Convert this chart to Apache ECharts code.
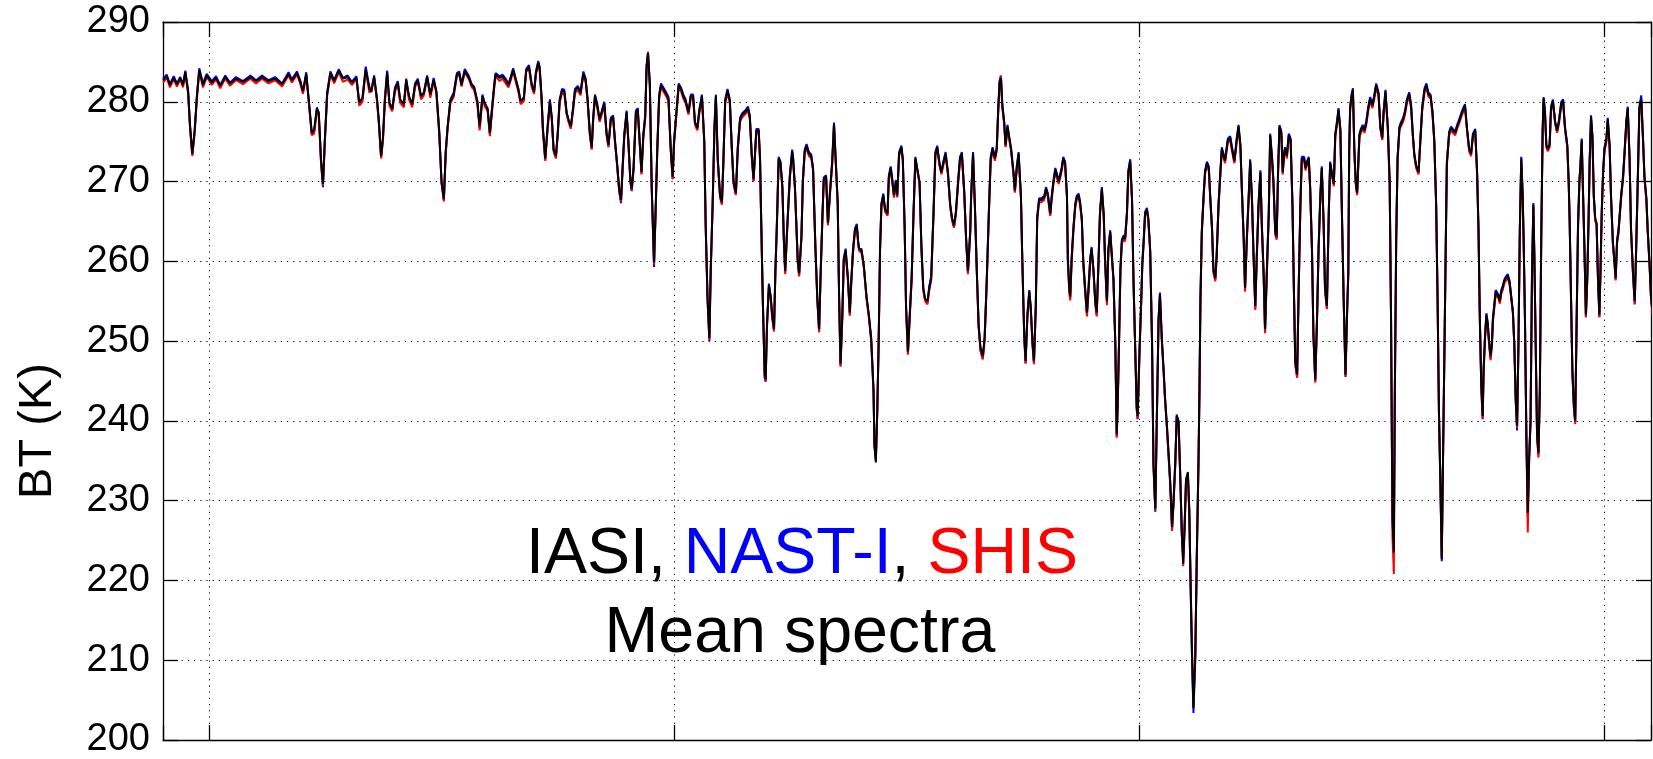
<!DOCTYPE html>
<html><head><meta charset="utf-8">
<script src="https://cdn.jsdelivr.net/npm/echarts@6/dist/echarts.min.js"></script>
<style>html,body{margin:0;padding:0;background:#fff}#c{width:1653px;height:759px}</style>
</head><body><div id="c"></div>
<script>
// Wavenumber (cm-1) sample positions
const wavenumber = [
1090.0,1090.8,1091.5,1092.3,1093.0,1093.7,1094.3,1094.8,1095.4,1095.8,
1096.3,1096.8,1097.3,1097.8,1098.6,1099.4,1100.5,1101.4,1102.3,1103.4,
1104.4,1105.7,1107.2,1108.8,1110.0,1111.3,1112.7,1114.1,1115.6,1117.0,
1117.7,1118.8,1119.5,1120.1,1120.8,1121.4,1122.0,1122.5,1123.1,1123.5,
1124.0,1124.4,1124.8,1125.3,1126.0,1126.8,1127.8,1128.7,1129.7,1130.6,
1131.6,1132.2,1132.9,1133.6,1134.4,1134.8,1135.4,1136.0,1136.4,1136.9,
1137.3,1137.7,1138.2,1138.7,1139.3,1139.9,1140.5,1141.0,1141.8,1142.3,
1142.9,1143.6,1144.2,1144.8,1145.5,1146.1,1146.8,1147.5,1148.2,1148.8,
1149.4,1149.9,1150.4,1150.8,1151.2,1151.8,1152.5,1153.2,
1153.7,1154.2,1154.9,1155.8,1156.4,1156.9,1157.6,1158.1,1158.7,1159.2,
1159.8,1160.3,1160.7,1161.2,1161.5,1162.4,1163.0,1163.7,1164.3,1164.8,
1165.3,1165.9,1166.4,1166.9,1167.6,1168.1,1168.7,1169.3,1169.8,1170.2,
1170.7,1171.0,1171.4,1171.7,1172.2,1172.7,1173.2,1173.6,1174.0,1174.5,
1174.9,1175.3,1175.8,1176.3,1176.8,1177.2,1177.7,1178.2,1178.6,1179.2,
1179.8,1180.4,1180.9,1181.3,1181.8,1182.2,1182.5,1182.9,1183.4,1183.9,
1184.5,1184.9,1185.4,1185.8,1186.3,1186.8,1187.2,1187.7,1188.1,1188.5,
1188.8,1189.2,1189.7,1190.1,1190.5,1190.8,1191.2,1191.7,1192.1,1192.5,
1192.9,1193.3,1193.7,1194.0,1194.3,1194.7,1195.1,1195.6,1196.0,1196.3,
1196.7,1197.1,1197.6,1198.1,1198.7,1199.2,1199.6,1199.9,1200.3,1200.9,
1201.4,1201.9,1202.4,1203.0,1203.5,1204.0,1204.4,1204.9,1205.3,1205.9,
1206.4,1206.7,1207.1,1207.5,1207.8,1208.2,1208.6,1208.9,1209.3,1209.8,
1210.2,1210.5,1210.9,1211.4,1211.9,1212.3,1212.7,1213.2,1213.6,1214.1,
1214.6,1215.2,1215.8,1216.2,1216.6,1217.0,
1217.6,1218.1,1218.4,1218.6,1219.0,1219.4,1219.6,1219.9,1220.3,1220.7,
1221.0,1221.4,1221.7,1222.0,1222.4,1222.8,1223.2,1223.5,1223.8,1224.2,
1224.8,1225.3,1225.5,1225.9,1226.2,1226.5,1226.8,1227.3,1227.6,1228.0,
1228.4,1228.9,1229.4,1229.8,1230.3,1230.7,1231.1,1231.4,1231.8,1232.1,
1232.6,1233.0,1233.4,1233.9,1234.3,1234.6,1235.1,1235.4,1235.7,1236.1,
1236.4,1236.8,1237.3,1237.7,1238.0,1238.4,1238.8,1239.2,1239.5,1239.7,
1240.2,1240.7,1241.3,1241.8,1242.3,1242.8,1243.0,1243.3,1243.6,1243.9,
1244.2,1244.5,1244.9,1245.3,1245.8,1246.1,1246.5,1246.8,1247.2,1247.6,
1247.9,1248.3,1248.8,1249.1,1249.5,1249.8,1250.2,1250.6,1251.0,1251.4,
1251.8,1252.2,1252.7,1253.1,1253.5,1253.9,1254.4,1254.8,1255.2,1255.7,
1256.1,1256.5,1257.0,1257.4,1257.8,1258.3,1258.8,1259.3,1259.7,1260.1,
1260.5,1261.0,1261.4,1261.8,1262.3,1262.7,1263.1,1263.6,1263.8,1264.2,
1264.6,1265.0,1265.4,1265.8,1266.3,1266.7,1267.1,1267.6,1268.0,1268.4,
1268.9,1269.3,1269.6,1269.9,1270.2,1270.5,1270.9,1271.2,1271.6,1272.0,
1272.4,1272.9,1273.2,1273.6,1274.0,1274.5,1274.8,1275.2,1275.5,1275.9,
1276.3,1276.6,1277.0,1277.3,1277.7,1278.0,1278.4,1278.9,1279.5,1279.9,
1280.3,1280.8,
1281.1,1281.5,1281.9,1282.2,1282.6,1282.9,1283.3,1283.6,1284.0,1284.4,
1284.6,1284.9,1285.1,1285.4,1285.8,1286.2,1286.5,1286.9,1287.2,1287.6,
1287.9,1288.3,1288.7,1289.0,1289.4,1289.7,1290.1,1290.5,1290.8,1291.2,
1291.5,1291.9,1292.3,1292.6,1293.0,1293.3,1293.7,1294.0,1294.4,1294.8,
1295.1,1295.3,1295.6,1295.9,1296.2,1296.6,1296.9,1297.3,1297.6,1298.0,
1298.4,1298.7,1299.1,1299.4,1299.6,1300.0,1300.4,1300.6,1300.9,1301.2,
1301.6,1301.9,1302.3,1302.7,1303.0,1303.4,1303.7,1304.1,1304.4,1304.8,
1305.2,1305.5,1305.9,1306.2,1306.6,1307.0,1307.3,1307.7,1308.0,1308.4,
1308.8,1309.1,1309.4,1309.7,1310.0,1310.4,1310.7,1311.0,1311.3,1311.6,
1312.0,1312.3,1312.7,1312.9,1313.1,1313.4,1313.8,1314.1,1314.5,1314.9,
1315.2,1315.6,1315.9,1316.3,1316.6,1317.0,1317.4,1317.7,1318.1,1318.4,
1319.0,1319.5,1319.9,1320.4,1320.9,1321.3,1321.7,1322.0,1322.4,1322.7,
1323.1,1323.5,1323.8,1324.2,1324.5,1324.9,1325.2,1325.6,1326.0,1326.3,
1326.7,1327.0,1327.4,1327.8,1328.1,1328.5,1328.8,1329.2,1329.5,1329.8,
1330.1,1330.5,1330.8,1331.1,1331.3,1331.7,1332.1,1332.5,1332.9,1333.2,
1333.5,1333.9,1334.2,1334.6,1334.9,1335.4,1335.7,1336.0,1336.4,1336.7,
1337.1,1337.4,1337.8,1338.2,1338.5,1338.9,1339.2,1339.6,1339.9,1340.3,
1340.7,1341.0,1341.4,1341.8,1342.1,1342.5,1342.8,1343.2,1343.5,1343.9,
1344.3,1344.6,1344.9,1345.1,1345.3,1345.6,1345.9,1346.2,1346.5,1346.8,
1347.1,1347.3,1347.6,1348.0,1348.4,1348.8,1349.2,1349.6,1350.1,1350.5,
1350.9,1351.4,1351.8,1352.2,1352.5,1352.9,1353.4,1353.8,1354.1,1354.4,
1354.7,1354.9,1355.2,1355.5,1355.9,1356.2,1356.7,1357.1,1357.5,1358.0,
1358.4,1358.8,1359.1,1359.5,1360.0,1360.4,1360.8,1361.3,1361.7,1362.1,
1362.6,1363.0,1363.4,1363.8,1364.1,1364.4,1364.7,1365.0,1365.3,1365.6,
1365.9,1366.1,1366.6,1367.0,1367.4,1367.9,1368.3,1368.7,1369.2,1369.6,
1370.0,1370.4,1370.9,1371.3,1371.7,1372.2,1372.6,1372.9,1373.2,1373.5,
1373.8,1374.0,1374.3,1374.6,1374.9,1375.2,1375.5,1375.8,1376.0,1376.3,
1376.6,1376.9,1377.2,1377.5,1377.8,1378.1,1378.5,1378.8,1379.2,1379.6,
1379.9,1380.3,1380.6,1380.9,1381.2,1381.5,1381.8,1382.1,1382.4,1382.6,
1382.9,1383.2,1383.5,1383.8,1384.1,1384.4,1384.7,1384.9,1385.2,1385.5,
1385.8,1386.1,1386.4,1386.7,1386.9,1387.2,1387.5,1387.8,1388.2,1388.5,
1388.9,1389.4,1389.8,1390.2,1390.7,1391.1,1391.5,1392.0,1392.3,1392.5,
1392.8,1393.1,1393.4,1393.7,1394.0,1394.3,1394.6,1394.8,1395.1,1395.4,
1395.7,1396.0,1396.3,1396.6,1396.8,1397.1,1397.4,1397.7,1398.0,1398.3,
1398.6,1398.9,1399.1,1399.4,1399.7,1400.0,1400.4,1400.7,1401.1,1401.4,
1401.8,1402.2,1402.4,1402.7,1403.0,1403.3,1403.6,1404.0,1404.3,1404.7,
1405.0,1405.4,1405.7,1406.1,1406.5,1406.8,1407.2,1407.5,1407.9,1408.3,
1408.6,1409.0,1409.3,1409.7,1410.0,1410.4
];

// IASI mean brightness temperature (K)
const iasi = [
282.7,283.2,282.1,283.0,282.2,283.0,282.1,283.7,281.3,277.2,
273.5,276.4,280.7,284.0,282.1,283.3,282.4,283.0,282.0,283.1,
282.3,282.9,282.5,283.1,282.6,283.1,282.6,282.9,282.2,283.5,
282.7,283.6,282.6,281.3,283.5,279.9,276.1,276.5,279.1,278.7,
272.6,269.7,275.2,281.0,283.6,282.6,283.9,282.9,283.1,282.4,
283.0,279.9,280.5,284.1,281.6,281.3,283.1,280.5,277.8,273.2,
275.5,280.1,283.7,279.9,279.1,281.6,282.4,280.3,279.7,282.7,
280.7,279.7,282.1,282.7,280.7,281.1,283.1,280.9,282.8,281.3,
276.4,270.0,267.8,273.8,276.9,280.1,280.9,283.4,
283.6,282.1,283.9,283.0,282.1,281.8,280.1,276.9,280.7,279.8,
279.2,276.1,278.7,281.8,283.4,283.0,283.2,282.7,282.1,283.0,
284.0,282.7,281.6,280.1,280.4,283.9,284.4,282.1,281.3,283.6,
284.9,284.2,280.7,276.7,272.9,276.7,280.1,278.1,274.1,273.2,
276.1,280.1,281.4,281.3,278.7,277.8,276.9,279.2,281.4,281.8,
281.1,283.6,282.7,280.4,276.1,274.3,277.8,280.7,279.5,277.8,
279.0,279.8,276.1,274.6,277.8,278.1,275.2,272.0,269.1,267.7,
271.2,275.8,278.7,274.9,270.3,269.1,271.7,278.7,279.0,275.2,
271.2,275.8,278.1,284.4,286.1,282.1,269.4,259.9,267.7,274.1,
280.7,282.1,281.6,281.1,280.4,274.1,270.6,274.9,277.8,282.1,
281.6,280.7,280.1,278.7,280.7,280.7,277.5,276.7,278.7,280.7,
275.2,264.8,255.6,250.4,259.1,267.1,276.9,280.7,272.9,268.3,
267.4,272.3,280.1,281.4,280.1,274.6,270.0,268.6,274.1,277.8,
278.4,278.7,279.2,278.1,273.5,270.3,
276.4,276.4,272.9,266.5,255.0,245.8,245.2,252.1,257.0,255.6,
253.3,251.5,258.8,264.2,272.9,272.3,269.4,263.1,258.8,263.7,
270.6,273.8,272.9,269.4,264.8,260.2,258.5,263.1,270.0,273.8,
274.5,273.5,273.2,271.7,261.9,255.6,251.5,257.9,265.4,270.3,
270.6,264.8,268.3,272.3,277.2,273.5,267.4,255.6,247.2,253.3,
260.2,261.4,257.9,253.6,257.3,261.4,263.9,264.5,262.5,261.6,
261.4,259.6,255.6,253.3,250.4,244.0,237.1,234.8,241.2,249.8,
261.4,267.1,268.3,266.5,266.0,270.6,271.7,270.3,268.3,270.0,
268.3,273.5,274.3,272.9,264.2,254.4,248.7,253.3,257.9,266.0,
272.9,272.9,270.0,261.9,256.7,255.3,255.0,256.7,257.9,266.0,
273.5,274.3,272.3,271.2,272.3,273.5,271.2,267.1,265.4,264.5,
266.0,270.0,272.9,273.5,268.9,263.1,258.8,263.7,268.3,273.5,
267.1,259.1,252.1,249.2,248.1,250.4,256.7,266.0,272.9,274.1,
272.9,274.1,278.7,282.4,283.0,279.5,277.5,274.6,276.9,276.9,
274.1,271.2,268.9,271.7,273.5,268.3,260.2,251.0,247.5,253.3,
256.2,254.4,249.8,247.5,254.4,265.4,267.7,267.7,268.0,269.1,
268.3,266.0,
267.9,270.0,271.5,271.7,270.0,270.6,271.7,272.9,272.3,268.3,
260.2,256.7,255.6,260.2,264.2,267.1,268.0,268.3,267.4,265.4,
260.2,256.7,253.6,256.2,260.2,261.6,259.0,255.0,253.6,260.2,
266.0,269.1,266.0,260.2,255.0,261.4,263.7,263.7,257.9,249.8,
238.3,241.8,249.8,259.0,262.5,263.1,262.8,266.0,271.2,272.6,
267.7,257.9,248.7,241.8,240.6,248.7,255.6,259.6,262.5,266.0,
266.5,265.4,261.4,249.8,234.8,229.0,239.4,252.7,255.9,250.4,
246.3,242.9,239.4,236.5,232.5,226.7,229.6,234.8,240.6,240.0,
232.5,226.1,222.1,226.7,232.5,233.6,229.0,219.2,210.6,204.0,
210.6,222.1,235.4,244.0,255.0,263.7,268.3,271.2,272.3,271.7,
268.3,264.2,259.0,257.9,260.8,267.1,271.2,274.1,273.2,272.6,
275.2,275.5,274.1,272.6,275.2,276.9,274.6,269.4,263.1,256.7,
263.1,268.3,272.6,267.7,261.4,254.4,260.2,267.1,271.2,264.8,
258.5,251.5,259.0,266.0,275.8,272.9,270.0,263.7,263.1,271.2,
276.9,276.1,271.2,273.5,274.1,273.2,275.8,275.2,267.1,256.7,
247.5,245.8,255.6,267.1,272.9,272.9,271.7,272.3,272.9,269.4,
261.4,251.0,245.2,253.3,261.4,268.3,271.7,264.8,256.7,254.4,
266.0,272.3,270.9,269.7,275.8,277.5,279.0,276.4,267.1,255.6,
245.8,252.7,258.5,274.1,279.2,280.7,281.5,274.1,270.0,268.6,
272.9,275.8,276.4,276.9,276.4,277.5,279.2,280.4,279.5,280.7,
282.1,281.0,276.9,275.5,278.7,281.3,276.9,270.0,252.7,227.9,
223.5,242.9,262.5,272.9,276.7,277.2,277.8,278.7,280.1,281.0,
279.5,275.8,273.5,272.0,271.2,275.2,279.2,281.5,282.1,281.0,
280.7,278.7,275.2,267.1,255.6,241.2,232.5,222.7,236.5,249.8,
263.7,272.3,276.1,276.7,276.4,276.1,276.9,277.5,278.4,279.0,
279.5,276.9,274.1,273.5,275.8,276.4,271.2,264.2,252.7,244.6,
240.6,246.3,250.4,253.3,252.1,249.8,248.1,249.8,252.7,254.4,
256.2,256.2,255.6,255.0,256.2,256.7,257.6,257.9,258.2,257.3,
257.3,253.8,249.8,242.9,239.4,249.8,264.2,272.9,268.3,263.1,
252.7,238.3,228.5,235.4,240.0,257.9,267.1,261.4,249.8,238.3,
236.0,244.0,263.1,276.4,280.4,278.7,274.6,274.1,274.6,279.2,
280.1,277.5,276.4,277.5,279.8,280.1,276.9,274.6,270.0,265.4,
255.6,246.3,242.3,240.0,252.1,264.2,270.0,271.7,275.2,268.3,
261.4,253.3,257.9,266.0,272.3,278.1,275.8,268.3,265.4,264.8,
257.9,253.3,257.9,266.0,271.2,274.1,275.2,277.8,274.6,268.3,
262.5,259.6,257.9,262.5,263.7,266.0,268.3,270.6,273.5,277.5,
279.2,272.9,264.2,259.0,255.0,261.4,271.2,279.2,280.4,275.2,
270.6,268.0,263.9,259.6,255.6,253.5
];

// NAST-I mean brightness temperature (K)
const nastI = [
282.9,283.4,282.2,283.2,282.3,283.1,282.2,283.9,281.4,277.0,
273.3,276.2,280.9,284.2,282.3,283.5,282.6,283.2,282.1,283.3,
282.4,283.1,282.6,283.3,282.7,283.3,282.7,283.1,282.3,283.7,
282.8,283.8,282.7,281.2,283.7,279.8,275.9,276.3,279.3,278.5,
272.3,269.3,275.0,281.2,283.8,282.7,284.1,283.0,283.3,282.5,
283.2,279.8,280.4,284.4,281.7,281.2,283.3,280.4,277.6,273.0,
275.3,280.3,283.9,279.8,279.0,281.8,282.6,280.2,279.6,282.9,
280.6,279.6,282.3,282.9,280.6,281.2,283.3,280.8,283.0,281.2,
276.2,269.8,267.6,273.6,276.7,280.3,281.1,283.6,
283.8,282.2,284.1,283.2,282.2,281.9,280.0,276.7,280.9,279.7,
279.1,275.9,278.9,282.0,283.6,283.2,283.4,282.9,282.2,283.2,
284.2,282.8,281.7,280.0,280.6,284.1,284.6,282.2,281.2,283.8,
285.1,284.4,280.6,276.5,272.7,276.9,280.3,278.0,273.9,273.0,
276.3,280.3,281.6,281.5,278.6,277.6,276.7,279.4,281.6,282.0,
281.3,283.8,282.9,280.3,275.9,274.1,278.0,280.9,279.7,277.6,
279.2,280.0,275.9,274.4,278.0,278.3,275.0,271.8,268.8,267.3,
271.4,276.0,278.9,274.7,270.0,268.8,271.9,278.9,279.2,275.0,
271.0,276.0,278.3,284.6,286.0,282.3,269.0,259.3,267.5,274.3,
280.9,282.3,281.8,281.3,280.6,273.9,270.3,275.1,278.0,282.3,
281.8,280.9,280.3,278.5,280.9,280.9,277.3,276.5,278.9,280.9,
275.0,264.5,255.2,250.0,259.3,267.3,277.1,280.9,272.7,268.1,
267.2,272.5,280.3,281.6,280.3,274.4,269.8,268.4,274.3,278.0,
278.6,278.9,279.4,278.3,273.3,270.1,
276.6,276.6,272.7,266.3,254.8,245.5,244.9,252.3,257.2,255.4,
253.1,251.3,259.0,264.4,273.1,272.5,269.2,262.9,258.6,263.9,
270.8,274.0,273.1,269.2,264.6,260.0,258.2,263.3,270.2,274.0,
274.7,273.7,273.4,271.5,261.7,255.4,251.2,258.1,265.6,270.5,
270.8,264.6,268.5,272.5,277.4,273.7,267.2,255.3,246.9,253.5,
260.4,261.6,257.7,253.3,257.5,261.6,264.1,264.7,262.3,261.4,
261.6,259.4,255.4,253.1,250.1,243.7,236.8,235.2,241.0,249.6,
261.6,267.3,268.5,266.3,265.8,270.8,271.9,270.5,268.1,270.2,
268.1,273.7,274.5,272.7,264.0,254.1,248.4,253.5,258.1,266.2,
273.1,273.1,269.8,261.7,256.5,255.1,254.8,256.9,258.1,266.2,
273.7,274.5,272.1,271.0,272.5,273.7,271.0,266.9,265.2,264.3,
266.2,270.2,273.1,273.7,268.7,262.9,258.5,263.9,268.5,273.7,
266.9,258.9,251.9,248.9,247.8,250.6,256.9,266.2,273.1,274.3,
273.1,274.3,278.9,282.6,283.3,279.7,277.3,274.4,277.1,277.1,
273.9,271.0,268.7,271.9,273.7,268.1,260.0,250.7,247.2,253.5,
256.4,254.2,249.5,247.2,254.6,265.6,267.9,267.9,268.2,269.3,
268.5,265.8,
268.1,270.2,271.7,271.9,270.2,270.8,271.9,273.1,272.5,268.1,
260.0,256.4,255.3,260.4,264.4,267.3,268.2,268.5,267.6,265.2,
260.0,256.4,253.3,256.4,260.4,261.8,258.8,254.7,253.3,260.4,
266.2,269.3,265.8,260.0,254.7,261.6,263.9,263.9,257.7,249.5,
238.0,242.0,250.0,259.2,262.7,263.3,263.0,266.2,271.4,272.8,
267.5,257.7,248.4,241.5,240.2,248.9,255.8,259.8,262.7,266.2,
266.7,265.2,261.2,249.5,234.5,228.6,239.6,252.9,256.1,250.1,
246.0,242.6,239.2,236.2,232.2,226.4,229.8,235.0,240.8,239.8,
232.2,225.7,222.8,226.9,232.7,233.4,228.7,218.8,209.9,203.4,
210.2,221.8,235.6,244.2,255.2,263.9,268.5,271.4,272.5,271.9,
268.1,264.0,258.7,257.7,261.0,267.3,271.4,274.3,273.4,272.8,
275.4,275.7,274.3,272.4,275.4,277.1,274.4,269.2,262.9,256.4,
263.3,268.5,272.8,267.5,261.2,254.1,260.4,267.3,271.4,264.6,
258.2,251.2,259.2,266.2,276.0,273.1,270.2,263.5,262.9,271.4,
277.1,276.3,271.0,273.7,274.3,273.4,276.0,275.4,266.9,256.4,
247.2,245.5,255.8,267.3,273.1,273.1,271.9,272.5,273.1,269.2,
261.2,250.7,244.9,253.5,261.6,268.5,271.9,264.6,256.4,254.1,
266.2,272.5,271.1,269.9,276.0,277.7,279.2,276.6,266.9,255.3,
245.5,252.9,258.7,274.3,279.4,280.9,281.7,273.9,269.8,268.4,
273.1,276.0,276.6,277.1,276.6,277.7,279.4,280.6,279.7,280.9,
282.3,281.2,276.7,275.3,278.9,281.5,276.7,269.7,252.2,227.2,
224.5,242.5,262.7,273.1,276.9,277.4,278.0,278.9,280.3,281.2,
279.7,275.6,273.3,271.8,271.0,275.4,279.4,281.7,282.3,281.2,
280.9,278.9,275.0,266.9,255.3,240.9,232.2,222.4,236.7,250.0,
263.9,272.5,276.3,276.9,276.6,276.3,277.1,277.7,278.6,279.2,
279.7,276.7,273.9,273.3,276.0,276.6,271.0,264.0,252.4,244.3,
240.2,246.5,250.6,253.5,252.3,249.6,247.8,250.0,252.9,254.6,
256.4,256.4,255.8,255.2,256.4,256.9,257.8,258.1,258.4,257.5,
257.5,253.5,249.5,242.6,238.8,250.0,264.4,273.1,268.5,262.9,
252.4,238.0,228.0,235.6,240.2,258.1,267.3,261.2,249.5,238.0,
235.7,244.2,263.3,276.6,280.6,278.9,274.4,273.9,274.8,279.4,
280.3,277.3,276.2,277.7,280.0,280.3,276.7,274.4,269.8,265.2,
255.3,245.8,241.8,239.8,252.3,264.4,270.2,271.9,275.4,268.1,
261.2,253.0,258.1,266.2,272.5,278.3,275.6,268.1,265.2,264.6,
257.7,253.0,258.1,266.2,271.4,274.3,275.4,278.0,274.4,268.1,
262.3,259.4,257.7,262.7,263.9,266.2,268.5,270.8,273.7,277.7,
279.4,272.7,264.0,258.7,254.6,261.6,271.4,279.4,280.8,275.0,
270.4,267.8,263.7,259.4,255.3,253.2
];

// SHIS mean brightness temperature (K)
const shis = [
282.4,283.0,281.8,282.8,281.9,282.8,281.8,283.5,281.0,276.8,
273.2,276.0,280.4,283.8,281.8,283.1,282.1,282.8,281.7,282.9,
282.0,282.7,282.2,282.9,282.3,282.9,282.3,282.7,281.9,283.3,
282.4,283.4,282.3,281.0,283.3,279.6,275.8,276.0,278.8,278.2,
272.2,269.5,274.9,280.7,283.4,282.3,283.7,282.5,282.8,282.1,
282.8,279.5,280.0,283.9,281.1,280.9,282.9,280.1,277.4,272.9,
275.1,279.8,283.5,279.5,278.8,281.3,282.1,279.9,279.3,282.5,
280.3,279.3,281.8,282.5,280.3,280.8,282.9,280.5,282.6,281.0,
276.0,269.9,267.5,273.5,276.6,279.8,280.6,283.2,
283.4,281.9,283.7,282.8,281.8,281.5,279.7,276.4,280.4,279.4,
278.9,275.7,278.4,281.5,283.2,282.6,282.9,282.3,281.8,282.7,
283.8,282.4,281.3,279.7,280.1,283.7,284.2,281.8,281.0,283.4,
284.8,283.9,280.4,276.3,272.6,276.4,279.8,277.8,273.8,272.9,
275.8,279.8,281.1,281.0,278.4,277.5,276.6,278.9,281.1,281.5,
280.8,283.4,282.4,280.1,275.8,274.0,277.5,280.4,279.2,277.5,
278.7,279.5,275.8,274.3,277.5,277.8,274.9,271.7,268.8,267.5,
270.9,275.5,278.4,274.6,270.1,268.9,271.4,278.4,278.7,274.9,
270.9,275.5,277.8,284.2,286.3,281.8,269.2,259.6,267.4,273.8,
280.4,281.8,281.3,280.8,280.1,273.8,270.3,274.6,277.5,281.8,
281.3,280.4,279.8,278.4,280.4,280.4,277.2,276.4,278.4,280.4,
274.9,264.5,255.3,250.2,258.8,266.8,276.6,280.4,272.6,268.0,
267.1,272.0,279.8,281.1,279.8,274.3,269.7,268.3,273.8,277.5,
278.1,278.4,278.9,277.8,273.2,270.0,
276.2,276.1,272.6,266.2,254.7,245.4,245.0,251.8,256.7,255.3,
253.0,251.2,258.5,263.9,272.6,272.0,269.1,262.8,258.4,263.4,
270.3,273.5,272.6,269.1,264.5,259.9,258.1,262.8,269.7,273.5,
274.2,273.2,272.9,271.4,261.6,255.3,251.1,257.6,265.1,270.0,
270.3,264.5,268.0,272.0,276.9,273.2,267.1,255.2,246.8,253.0,
259.9,261.1,257.6,253.2,257.0,261.1,263.6,264.2,262.2,261.3,
261.1,259.3,255.3,253.0,250.1,243.6,236.9,235.0,240.9,249.5,
261.1,266.8,268.0,266.2,265.7,270.3,271.4,270.0,268.0,269.7,
268.0,273.2,274.0,272.6,263.9,254.0,248.3,253.0,257.6,265.7,
272.6,272.6,269.7,261.6,256.4,255.0,254.6,256.4,257.6,265.7,
273.2,274.0,272.0,270.9,272.0,273.2,270.9,266.8,265.1,264.2,
265.7,269.7,272.6,273.2,268.6,262.8,258.4,263.4,268.0,273.2,
266.8,258.8,251.8,248.8,247.7,250.1,256.4,265.7,272.6,273.8,
272.6,273.8,278.4,282.1,283.2,279.2,277.2,274.3,276.6,276.6,
273.8,270.9,268.6,271.4,273.2,268.0,259.9,250.6,247.2,253.0,
255.9,254.1,249.5,247.1,254.1,265.1,267.4,267.4,267.7,268.8,
268.0,265.7,
267.6,269.7,271.2,271.4,269.7,270.3,271.4,272.6,272.0,267.9,
259.7,256.2,255.1,259.7,263.9,266.8,267.7,268.0,267.1,265.0,
259.7,256.2,253.1,255.8,259.8,261.3,258.6,254.6,253.1,259.8,
265.7,268.8,265.6,259.7,254.5,261.1,263.4,263.4,257.5,249.4,
237.9,241.5,249.5,258.7,262.2,262.8,262.5,265.7,270.9,272.3,
267.4,257.5,248.3,241.4,240.3,248.4,255.3,259.3,262.2,265.7,
266.2,265.1,261.1,249.4,234.4,228.8,239.1,252.4,255.6,250.0,
245.9,242.5,239.0,236.1,232.0,226.2,229.3,234.4,240.3,239.7,
232.1,225.8,221.8,226.3,232.1,233.2,228.7,219.6,211.2,204.5,
211.0,222.6,235.0,243.7,254.6,263.4,268.0,270.9,272.0,271.4,
268.0,263.8,258.6,257.5,260.5,266.8,270.9,273.8,272.9,272.3,
274.9,275.2,273.8,272.3,274.9,276.6,274.3,269.0,262.7,256.2,
262.7,268.0,272.3,267.2,261.0,253.9,259.8,266.8,270.9,264.4,
258.1,251.0,258.6,265.7,275.5,272.6,269.7,263.3,262.7,270.9,
276.6,275.8,270.9,273.2,273.8,272.9,275.5,274.9,266.8,256.3,
247.0,245.4,255.2,266.8,272.6,272.6,271.4,272.0,272.6,269.0,
261.0,250.6,244.8,253.0,261.0,268.0,271.4,264.5,256.3,254.0,
265.7,272.0,270.6,269.4,275.5,277.2,278.7,276.1,266.8,255.2,
245.6,252.4,258.2,273.8,278.9,280.4,281.2,273.8,269.7,268.3,
272.6,275.5,276.1,276.6,276.1,277.2,278.9,280.1,279.2,280.4,
281.8,280.7,276.6,275.2,278.4,281.0,276.6,269.6,252.3,225.5,
220.8,242.4,262.2,272.6,276.4,276.9,277.5,278.4,279.8,280.7,
279.2,275.5,273.2,271.7,270.9,274.9,278.9,281.2,281.8,280.7,
280.4,278.4,274.9,266.8,255.2,240.8,232.3,222.9,236.2,249.5,
263.4,272.0,275.8,276.4,276.1,275.8,276.6,277.2,278.1,278.7,
279.2,276.6,273.8,273.2,275.5,276.1,270.9,263.9,252.4,244.0,
240.3,245.9,250.1,253.0,251.6,249.4,247.6,249.5,252.4,254.1,
255.9,255.9,255.3,254.7,255.9,256.4,257.3,257.6,257.9,257.0,
257.0,253.5,249.5,242.6,239.1,249.5,263.9,272.6,268.0,262.8,
252.4,237.5,226.0,235.0,239.7,257.6,266.8,261.1,249.5,238.0,
235.4,243.7,262.8,276.1,280.1,278.4,274.3,273.8,274.3,278.9,
279.8,277.2,276.1,277.2,279.5,279.8,276.6,274.3,269.7,265.1,
255.3,245.9,241.8,239.6,251.8,263.9,269.7,271.4,274.9,268.0,
261.1,253.0,257.6,265.7,272.0,277.8,275.5,268.0,265.1,264.5,
257.6,253.0,257.6,265.7,270.9,273.8,274.9,277.5,274.3,268.0,
262.2,259.3,257.6,262.2,263.4,265.7,268.0,270.3,273.2,277.2,
278.9,272.6,263.9,258.7,254.7,261.1,270.9,278.9,280.1,274.9,
270.3,267.7,263.6,259.3,255.3,253.2
];

const xRange = [1090, 1410];
const yRange = [200, 290];
const yStep = 10;

const FONT = '"Liberation Sans", Arial, Helvetica, sans-serif';
const toPairs = arr => wavenumber.map((x, i) => [x, arr[i]]);
if (iasi.length !== wavenumber.length || nastI.length !== wavenumber.length || shis.length !== wavenumber.length) {
  console.error('length mismatch', wavenumber.length, iasi.length, nastI.length, shis.length);
}

const axisLineStyle = {color: '#000', width: 1.3};
const tick = {show: true, inside: true, length: 15, lineStyle: {color: '#000', width: 1.3}};
const grid = {color: '#000', width: 1, type: [1.2, 5]};

const chart = echarts.init(document.getElementById('c'), null, {renderer: 'canvas'});
chart.setOption({
  animation: false,
  backgroundColor: '#fff',
  grid: {left: 163, right: 2, top: 22, bottom: 17},
  xAxis: [
    {type: 'value', min: xRange[0], max: xRange[1], splitNumber: 3, position: 'bottom',
     axisLine: {show: true, onZero: false, lineStyle: axisLineStyle}, axisTick: tick,
     axisLabel: {show: false}, splitLine: {show: true, lineStyle: grid}},
    {type: 'value', min: xRange[0], max: xRange[1], splitNumber: 3, position: 'top',
     axisLine: {show: true, onZero: false, lineStyle: axisLineStyle}, axisTick: tick,
     axisLabel: {show: false}, splitLine: {show: false}}
  ],
  yAxis: [
    {type: 'value', min: yRange[0], max: yRange[1], interval: yStep, position: 'left',
     axisLine: {show: true, onZero: false, lineStyle: axisLineStyle}, axisTick: tick,
     axisLabel: {show: true, fontSize: 38, color: '#000', fontFamily: FONT, margin: 13},
     splitLine: {show: true, lineStyle: grid}},
    {type: 'value', min: yRange[0], max: yRange[1], interval: yStep, position: 'right',
     axisLine: {show: true, onZero: false, lineStyle: axisLineStyle}, axisTick: tick,
     axisLabel: {show: false}, splitLine: {show: false}}
  ],
  series: [
    {name: 'NAST-I', type: 'line', data: toPairs(nastI), showSymbol: false, symbol: 'none',
     lineStyle: {color: '#0000ff', width: 2}, itemStyle: {color: '#0000ff'}, z: 2},
    {name: 'SHIS', type: 'line', data: toPairs(shis), showSymbol: false, symbol: 'none',
     lineStyle: {color: '#ff0000', width: 2}, itemStyle: {color: '#ff0000'}, z: 3},
    {name: 'IASI', type: 'line', data: toPairs(iasi), showSymbol: false, symbol: 'none',
     lineStyle: {color: '#000000', width: 2}, itemStyle: {color: '#000'}, z: 4}
  ],
  graphic: [
    {type: 'text', x: 38, y: 431, rotation: Math.PI / 2, z: 10,
     style: {text: 'BT (K)', fontSize: 47, fontFamily: FONT, fill: '#000', align: 'center', verticalAlign: 'middle'}},
    {type: 'text', x: 802, y: 555, z: 10,
     style: {text: '{k|IASI, }{b|NAST-I}{k|, }{r|SHIS}', align: 'center', verticalAlign: 'middle',
       fontSize: 64.5, fontFamily: FONT, fill: '#000',
       rich: {
         k: {fill: '#000', fontSize: 64.5, fontFamily: FONT},
         b: {fill: '#0000ff', fontSize: 64.5, fontFamily: FONT},
         r: {fill: '#ff0000', fontSize: 64.5, fontFamily: FONT}
       }}},
    {type: 'text', x: 800, y: 634, z: 10,
     style: {text: 'Mean spectra', fontSize: 64.5, fontFamily: FONT, fill: '#000', align: 'center', verticalAlign: 'middle'}}
  ]
});
</script>
</body></html>
